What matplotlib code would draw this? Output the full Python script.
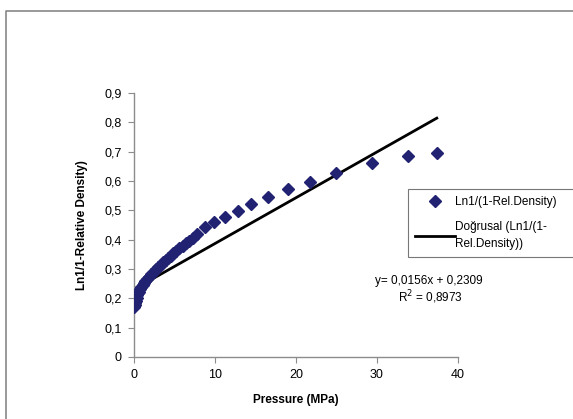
import matplotlib

matplotlib.use("Agg")
import matplotlib.pyplot as plt
from matplotlib.lines import Line2D
from matplotlib.ticker import FuncFormatter

plt.rcParams["font.family"] = ["Liberation Sans", "DejaVu Sans"]

# basınç (MPa) ve Ln1/(1-Rel.Density) değerleri
pressure = [0.05, 0.1, 0.15, 0.2, 0.3, 0.4, 0.5, 0.6, 0.75, 0.9, 1.05, 1.2,
            1.4, 1.6, 1.85, 2.1, 2.4, 2.7, 3.0, 3.3, 3.6, 3.9, 4.2, 4.5,
            4.85, 5.2, 5.6, 6.0, 6.4, 6.8, 7.3, 7.8, 8.8, 9.9, 11.2, 12.9,
            14.5, 16.6, 19.0, 21.7, 25.0, 29.4, 33.9, 37.4]
ln_density = [0.172, 0.178, 0.185, 0.192, 0.202, 0.210, 0.217, 0.223, 0.231,
              0.238, 0.245, 0.251, 0.259, 0.266, 0.274, 0.282, 0.291, 0.299,
              0.307, 0.315, 0.323, 0.331, 0.338, 0.345, 0.353, 0.361, 0.370,
              0.379, 0.387, 0.396, 0.406, 0.418, 0.443, 0.460, 0.477, 0.498,
              0.520, 0.545, 0.573, 0.597, 0.628, 0.661, 0.685, 0.697]

# doğrusal trend: y = 0,0156x + 0,2309
slope, intercept = 0.0156, 0.2309
trend_x = [0, 37.4]

x_ticks = [0, 10, 20, 30, 40]
y_ticks = [0, 0.1, 0.2, 0.3, 0.4, 0.5, 0.6, 0.7, 0.8, 0.9]

NAVY = "#222272"
GRAY = "#8c8c8c"

fig = plt.figure(figsize=(5.73, 4.19), dpi=100)
ax = fig.add_axes([0.234, 0.148, 0.565, 0.630])

pts, = ax.plot(pressure, ln_density, "D", color=NAVY, markersize=6.5,
               linestyle="none", zorder=3, label="Ln1/(1-Rel.Density)")
trend, = ax.plot(trend_x, [slope * x + intercept for x in trend_x],
                 color="black", lw=2.0, zorder=2,
                 label="Doğrusal (Ln1/(1-\nRel.Density))")

ax.set_xlim(0, 40)
ax.set_ylim(0, 0.9)
ax.set_xticks(x_ticks)
ax.set_yticks(y_ticks)
comma = FuncFormatter(lambda v, p: f"{v:g}".replace(".", ","))
ax.xaxis.set_major_formatter(comma)
ax.yaxis.set_major_formatter(comma)
ax.tick_params(direction="out", length=4, width=0.8, color=GRAY,
               labelsize=9, pad=5)
for s in ("top", "right"):
    ax.spines[s].set_visible(False)
for s in ("left", "bottom"):
    ax.spines[s].set_color(GRAY)
    ax.spines[s].set_linewidth(1.0)

ax.set_xlabel("Pressure (MPa)", fontsize=8.5, fontweight="bold", labelpad=9)
ax.set_ylabel("Ln1/1-Relative Density)", fontsize=8.5, fontweight="bold",
              labelpad=12)

leg = fig.legend(handles=[pts, trend], loc="lower left",
                 bbox_to_anchor=(0.712, 0.387, 0.29, 0.162), mode="expand",
                 fontsize=8.5, frameon=True, fancybox=False, handlelength=3.4,
                 borderaxespad=0, labelspacing=1.1, handletextpad=0.0,
                 borderpad=0.6)
leg.get_frame().set_edgecolor("#555555")
leg.get_frame().set_linewidth(0.8)
leg.get_texts()[1].set_linespacing(1.5)

fig.text(0.748, 0.322, "y= 0,0156x + 0,2309", fontsize=8.5, ha="center")
fig.text(0.752, 0.280, "R$^{2}$ = 0,8973", fontsize=8.5, ha="center")

# dış çerçeve (sadece sol ve üst kenar görünüyor)
fig.add_artist(Line2D([0.011, 0.011, 1.0], [0.0, 0.973, 0.973],
                      color="#888888", lw=1.2, transform=fig.transFigure))

fig.savefig("out.png", dpi=100)
